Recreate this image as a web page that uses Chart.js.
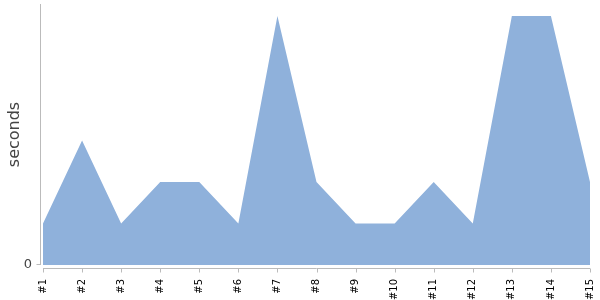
<!DOCTYPE html>
<html>
<head>
<meta charset="utf-8">
<script src="https://cdn.jsdelivr.net/npm/chart.js@4/dist/chart.umd.min.js"></script>
<style>
  html, body { margin: 0; padding: 0; background: #fff; }
  #wrap { width: 600px; height: 300px; }
</style>
</head>
<body>
<div id="wrap"><canvas id="chart"></canvas></div>
<script>
const labels  = ['#1', '#2', '#3', '#4', '#5', '#6', '#7', '#8', '#9', '#10', '#11', '#12', '#13', '#14', '#15'];
const seconds = [1, 3, 1, 2, 2, 1, 6, 2, 1, 1, 2, 1, 6, 6, 2];
const yTicks  = [0];

const axisColor = '#bbb';

// axes are drawn detached from the plot, a few px away
const detachedAxes = {
  id: 'detachedAxes',
  afterDraw(chart) {
    const { ctx, chartArea, scales } = chart;
    const x = scales.x, y = scales.y;
    const gap = 3, tick = 4;
    ctx.save();
    ctx.strokeStyle = axisColor;
    ctx.lineWidth = 1;
    ctx.beginPath();
    // y axis
    const yl = Math.round(chartArea.left - gap) + 0.5;
    ctx.moveTo(yl, chartArea.top);
    ctx.lineTo(yl, y.getPixelForValue(0));
    yTicks.forEach(v => {
      const py = Math.round(y.getPixelForValue(v)) - 0.5;
      ctx.moveTo(yl - tick, py);
      ctx.lineTo(yl, py);
    });
    // x axis
    const xb = Math.round(chartArea.bottom + gap) + 0.5;
    ctx.moveTo(x.getPixelForValue(0), xb);
    ctx.lineTo(x.getPixelForValue(labels.length - 1), xb);
    labels.forEach((l, i) => {
      const px = Math.round(x.getPixelForValue(i)) + 0.5;
      ctx.moveTo(px, xb);
      ctx.lineTo(px, xb + tick);
    });
    ctx.stroke();
    ctx.restore();
  }
};

const noPad = s => { s.paddingTop = 0; s.paddingBottom = 0; s.paddingLeft = 0; s.paddingRight = 0; };

new Chart(document.getElementById('chart'), {
  type: 'line',
  data: {
    labels,
    datasets: [{
      data: seconds,
      fill: 'origin',
      backgroundColor: 'rgb(143,177,219)',
      borderColor: 'rgb(143,177,219)',
      borderWidth: 0,
      pointRadius: 0,
      tension: 0,
    }],
  },
  options: {
    responsive: true,
    maintainAspectRatio: false,
    animation: false,
    layout: { padding: { top: 4, right: 10, left: 0, bottom: 0 } },
    plugins: { legend: { display: false }, tooltip: { enabled: false } },
    scales: {
      x: {
        offset: false,
        grid: { display: false, drawTicks: false },
        border: { display: false },
        ticks: {
          color: '#000',
          font: { family: 'DejaVu Sans', size: 10 },
          minRotation: 90,
          maxRotation: 90,
          autoSkip: false,
          padding: 14,
        },
        afterFit: s => { s.height = 35; noPad(s); },
      },
      y: {
        min: 0,
        max: 6.29,
        afterBuildTicks: s => { s.ticks = yTicks.map(v => ({ value: v })); },
        grid: { display: false, drawTicks: false },
        border: { display: false },
        ticks: {
          color: '#444',
          font: { family: 'DejaVu Sans', size: 13 },
          padding: 11,
        },
        title: {
          display: true,
          text: 'seconds',
          color: '#444',
          font: { family: 'DejaVu Sans', size: 16 },
          padding: { top: 5, bottom: 0 },
        },
        afterFit: s => { s.width = 43; noPad(s); },
      },
    },
  },
  plugins: [detachedAxes],
});
</script>
</body>
</html>
